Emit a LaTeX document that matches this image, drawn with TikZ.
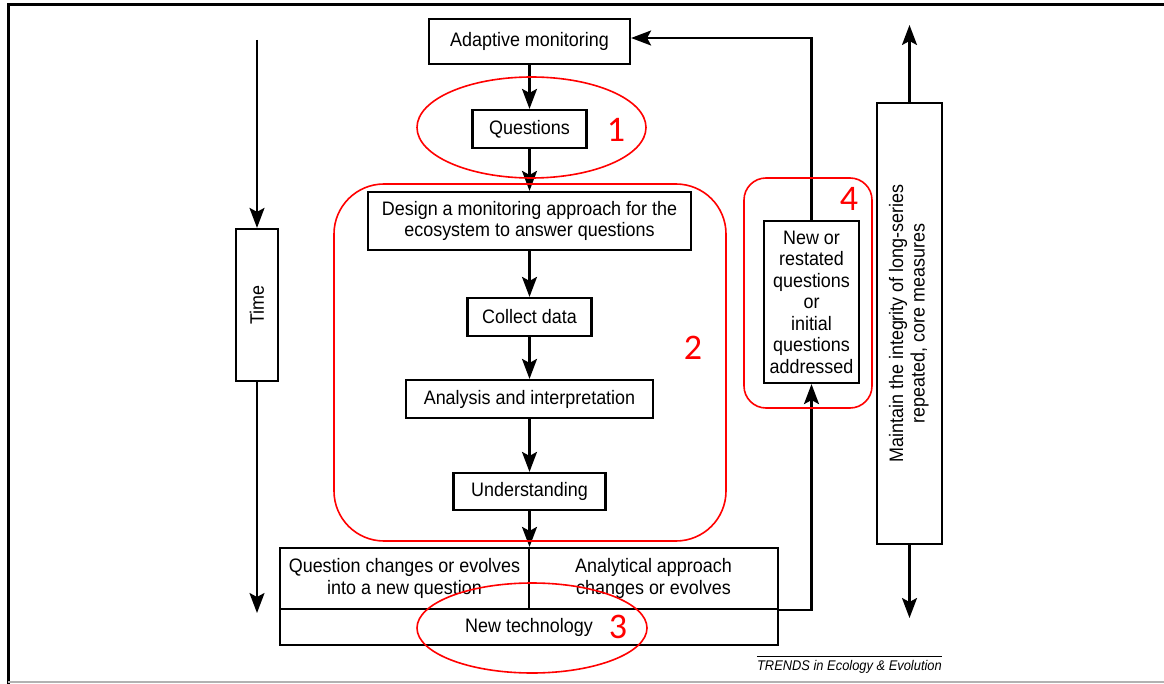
\documentclass[tikz,border=0pt]{standalone}
\usepackage{fontspec}
\setmainfont{Liberation Sans}[FakeStretch=0.92]
\newfontfamily\numfont{Carlito}
\usetikzlibrary{arrows.meta}

\begin{document}
\begin{tikzpicture}[x=1pt, y=-1pt,
    box/.style={draw, line width=2.2pt, inner sep=0pt, align=center, font=\fontsize{19.5}{21.5}\selectfont},
    arr/.style={line width=2.2pt, -{Stealth[length=20pt,width=15pt,inset=4pt]}},
    redline/.style={draw=red, line width=1.6pt},
    num/.style={text=red, inner sep=0pt, font=\numfont\fontsize{36}{36}\selectfont}]
    \useasboundingbox (0,0) rectangle (1164,684);
    \draw[line width=3pt] (8,684) -- (8,5) -- (1164,5);
    \draw[gray!60, line width=1.5pt] (8,682) -- (1164,682);

    \node[box, minimum width=201pt, minimum height=45pt] (adapt) at (529.5,41.5) {Adaptive monitoring};
    \node[box, minimum width=114pt, minimum height=38pt] (quest) at (529.5,129) {Questions};
    \node[box, minimum width=323pt, minimum height=58pt] (design) at (529.5,221)
        {Design a monitoring approach for the\\ecosystem to answer questions};
    \node[box, minimum width=124pt, minimum height=38pt] (collect) at (529.5,317) {Collect data};
    \node[box, minimum width=247pt, minimum height=38pt] (analysis) at (529.5,399) {Analysis and interpretation};
    \node[box, minimum width=152pt, minimum height=37pt] (underst) at (529.5,491.5) {Understanding};

    \node[box, minimum width=249pt, minimum height=61pt] (lcell) at (404.5,578.5)
        {Question changes or evolves\\into a new question};
    \node[box, minimum width=249pt, minimum height=61pt] (rcell) at (653.5,578.5)
        {Analytical approach\\changes or evolves};
    \node[box, minimum width=498pt, minimum height=36pt] (newtech) at (529,627) {New technology};

    \node[box, minimum width=95pt, minimum height=162pt] (newq) at (811.5,302)
        {New or\\restated\\questions\\or\\initial\\questions\\addressed};
    \node[box, minimum width=42pt, minimum height=152pt] (time) at (257,305) {\rotatebox{90}{Time}};
    \node[box, minimum width=65pt, minimum height=441pt] (keep) at (909.5,323.5)
        {\rotatebox{90}{\begin{tabular}{@{}c@{}}Maintain the integrity of long-series\\repeated, core measures\end{tabular}}};

    \coordinate (ttop) at (257,40);
    \coordinate (tbot) at (257,613);
    \coordinate (ktop) at (909.5,25);
    \coordinate (kbot) at (909.5,618);

    \foreach \a/\b in {adapt/quest, quest/design, design/collect, collect/analysis, analysis/underst}
	\draw[arr] (\a) -- (\b);
    \draw[arr] (underst) -- (underst.south |- lcell.north);
    \draw[arr] (rcell.south east) -| (newq.south);
    \draw[arr] (newq.north) |- ([yshift=3.5pt]adapt.east);
    \draw[arr] (ttop) -- (time);
    \draw[arr] (time) -- (tbot);
    \draw[arr] (keep) -- (ktop);
    \draw[arr] (keep) -- (kbot);

    \node[anchor=east, inner sep=0pt, font=\fontsize{14}{14}\selectfont\itshape] (src) at (942,667)
        {TRENDS in Ecology \& Evolution};
    \draw[line width=0.9pt] ([yshift=4pt]src.north west) -- ([yshift=4pt]src.north east);

    \draw[redline] (531.5,127.5) ellipse [x radius=114.5pt, y radius=50.5pt];
    \draw[redline, rounded corners=50pt] (334,184) rectangle (726,541);
    \draw[redline] (532,628) ellipse [x radius=115pt, y radius=45pt];
    \draw[redline, rounded corners=22pt] (744,178) rectangle (872,408);
    \node[num] (n1) at (616,130) {1};
    \node[num] (n2) at (693,348) {2};
    \node[num] (n3) at (618,627) {3};
    \node[num] (n4) at (849,199) {4};
\end{tikzpicture}
\end{document}
